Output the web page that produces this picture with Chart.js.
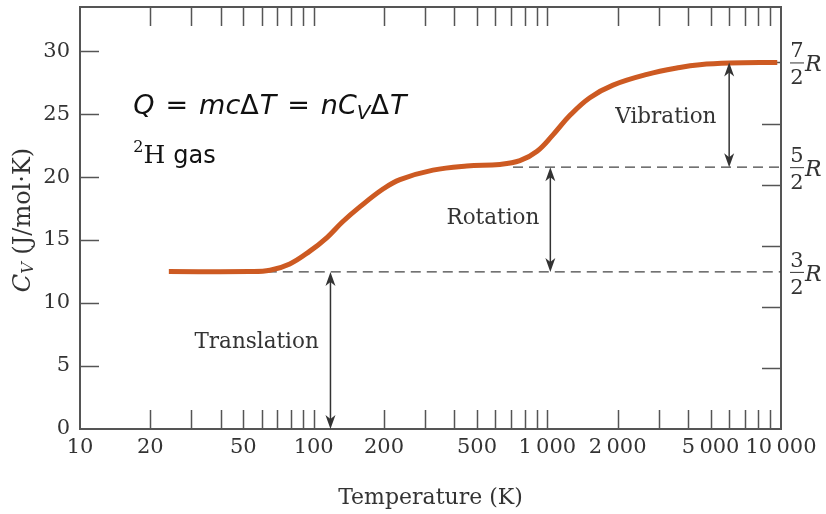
<!DOCTYPE html>
<html>
<head>
<meta charset="utf-8">
<script src="https://cdn.jsdelivr.net/npm/chart.js@4/dist/chart.umd.min.js"></script>
<style>
  html, body { margin: 0; padding: 0; background: #fff; }
  canvas { display: block; }
</style>
</head>
<body>
<canvas id="cv" width="826" height="514"></canvas>
<script>
// curve: temperature (K) and molar heat capacity (J/mol·K)
const temps = [24, 53, 65, 79, 96, 114, 133, 158, 198, 234, 324, 452, 627, 763, 904, 1057, 1250, 1520, 1910, 2670, 3690, 4490, 6030, 9640];
const cvValues = [12.5, 12.5, 12.6, 13.1, 14.1, 15.2, 16.45, 17.65, 19.05, 19.8, 20.55, 20.88, 21.0, 21.3, 22.05, 23.35, 24.9, 26.3, 27.3, 28.15, 28.7, 28.92, 29.05, 29.1];

// axis ticks
const xTickValues = [20, 30, 40, 50, 60, 70, 80, 90, 100, 200, 300, 400, 500, 600, 700, 800, 900, 1000, 2000, 3000, 4000, 5000, 6000, 7000, 8000, 9000];
const xLabelValues = [10, 20, 50, 100, 200, 500, 1000, 2000, 5000, 10000];
const yTickValues = [0, 5, 10, 15, 20, 25, 30];
const rightTickValues = [4.85, 9.7, 14.55, 19.4, 24.25, 29.1];

// R levels
const gasR = 8.314;
const levelNums = [3, 5, 7];
const levelValues = levelNums.map((n) => n / 2 * gasR);
const dashStartT = [63, 713];

// arrows and their labels
const arrowT = [118, 1030, 6000];
const arrowFrom = [0, levelValues[0], levelValues[1]];
const arrowTo = [levelValues[0], levelValues[1], levelValues[2]];
const modeLabels = ['Translation', 'Rotation', 'Vibration'];
const modeLabelT = [57, 585, 3215];
const modeLabelCv = [6.9, 16.75, 24.7];

const serif = '"DejaVu Serif", "Liberation Serif", serif';
const sans = '"DejaVu Sans", "Open Sans", sans-serif';
const inkColor = '#333';
const frameColor = '#555';

// Method: fmtTemp
// Purpose: tick label text for the temperature axis (thin space in thousands)
const fmtTemp = (v) => {
  if (v >= 1000) {
    const s = String(v);
    return s.slice(0, s.length - 3) + '\u2009' + s.slice(-3);
  }
  return String(v);
};

// Method: drawArrowHead
// Purpose: filled arrow head with tip at (x, y), dir = -1 up, +1 down
function drawArrowHead(ctx, x, y, dir) {
  const len = 14, half = 5, notch = 10;
  ctx.beginPath();
  ctx.moveTo(x, y);
  ctx.lineTo(x - half, y - dir * len);
  ctx.lineTo(x, y - dir * notch);
  ctx.lineTo(x + half, y - dir * len);
  ctx.closePath();
  ctx.fill();
}

const decorPlugin = {
  id: 'decor',
  beforeDatasetsDraw(chart) {
    const { ctx, chartArea: a } = chart;
    const xs = chart.scales.x, ys = chart.scales.y;
    ctx.save();
    ctx.strokeStyle = frameColor;
    ctx.lineWidth = 1.5;
    const tl = 19;
    // top and bottom ticks, pointing inward
    xTickValues.forEach((v) => {
      const px = Math.round(xs.getPixelForValue(v)) + 0.5;
      ctx.beginPath();
      ctx.moveTo(px, a.bottom); ctx.lineTo(px, a.bottom - tl);
      ctx.moveTo(px, a.top); ctx.lineTo(px, a.top + tl);
      ctx.stroke();
    });
    // left ticks
    yTickValues.forEach((v) => {
      if (v === 0) return;
      const py = Math.round(ys.getPixelForValue(v)) + 0.5;
      ctx.beginPath();
      ctx.moveTo(a.left, py); ctx.lineTo(a.left + tl, py);
      ctx.stroke();
    });
    // right ticks
    rightTickValues.forEach((v) => {
      const py = Math.round(ys.getPixelForValue(v)) + 0.5;
      ctx.beginPath();
      ctx.moveTo(a.right, py); ctx.lineTo(a.right - tl, py);
      ctx.stroke();
    });
    // frame
    ctx.lineWidth = 2;
    ctx.strokeRect(a.left, a.top, a.right - a.left, a.bottom - a.top);
    ctx.restore();
  },
  afterDatasetsDraw(chart) {
    const { ctx, chartArea: a } = chart;
    const xs = chart.scales.x, ys = chart.scales.y;
    ctx.save();

    // arrows
    ctx.strokeStyle = inkColor;
    ctx.fillStyle = inkColor;
    ctx.lineWidth = 1.5;
    arrowT.forEach((t, i) => {
      const px = xs.getPixelForValue(t);
      const yb = ys.getPixelForValue(arrowFrom[i]);
      const yt = ys.getPixelForValue(arrowTo[i]);
      ctx.beginPath();
      ctx.moveTo(px, yb - 8); ctx.lineTo(px, yt + 8);
      ctx.stroke();
      drawArrowHead(ctx, px, yt, -1);
      drawArrowHead(ctx, px, yb, 1);
    });

    // mode labels
    ctx.font = '21.5px ' + serif;
    ctx.textAlign = 'center';
    ctx.textBaseline = 'middle';
    modeLabels.forEach((s, i) => {
      ctx.fillText(s, xs.getPixelForValue(modeLabelT[i]), ys.getPixelForValue(modeLabelCv[i]));
    });

    // fractions on the right: n/2 R
    const fx = a.right + 16;
    levelValues.forEach((v, i) => {
      const py = ys.getPixelForValue(v);
      ctx.font = '21px ' + serif;
      ctx.textAlign = 'center';
      ctx.textBaseline = 'alphabetic';
      ctx.fillText(String(levelNums[i]), fx, py - 5);
      ctx.fillText('2', fx, py + 22);
      ctx.lineWidth = 1;
      ctx.beginPath();
      ctx.moveTo(fx - 7, py + 0.5); ctx.lineTo(fx + 7, py + 0.5);
      ctx.stroke();
      ctx.font = 'italic 22px ' + serif;
      ctx.textAlign = 'left';
      ctx.fillText('R', fx + 8, py + 9);
    });

    // formula
    ctx.fillStyle = '#111';
    ctx.textAlign = 'left';
    ctx.textBaseline = 'alphabetic';
    let fxPos = xs.getPixelForValue(16.9);
    const fy = ys.getPixelForValue(25.0);
    const parts = [
      ['i', 'Q'], ['u', '='], ['i', 'mc'], ['d', '\u0394'], ['i', 'T'], ['u', '='],
      ['i', 'nC'], ['s', 'V'], ['d', '\u0394'], ['i', 'T'],
    ];
    parts.forEach(([kind, s]) => {
      let dy = 0, gap = 0;
      if (kind === 'i') ctx.font = 'italic 27px ' + sans;
      else if (kind === 'u') { ctx.font = '27px ' + sans; gap = 11; }
      else if (kind === 'd') ctx.font = '27px ' + sans;
      else { ctx.font = 'italic 20px ' + sans; dy = 5; }
      fxPos += gap;
      ctx.fillText(s, fxPos, fy + dy);
      fxPos += ctx.measureText(s).width + gap + (kind === 'd' ? 1 : 0);
    });

    // 2H gas
    let gx = xs.getPixelForValue(16.9);
    const gy = ys.getPixelForValue(21.1);
    ctx.font = '16px ' + serif;
    ctx.fillText('2', gx, gy - 11);
    gx += ctx.measureText('2').width;
    ctx.font = '25px ' + serif;
    ctx.fillText('H', gx, gy);
    gx += ctx.measureText('H').width + 8;
    ctx.font = '24px ' + sans;
    ctx.fillText('gas', gx, gy);

    // y axis title, rotated
    ctx.fillStyle = inkColor;
    ctx.translate(24, 220);
    ctx.rotate(-Math.PI / 2);
    const tParts = [['italic 24px ', 'C', 0], ['italic 16px ', 'V', 5], ['24px ', ' (J/mol\u00b7K)', 0]];
    let total = 0;
    tParts.forEach(([f, s]) => { ctx.font = f + serif; total += ctx.measureText(s).width; });
    let tx = -total / 2;
    ctx.textBaseline = 'middle';
    tParts.forEach(([f, s, dy]) => {
      ctx.font = f + serif;
      ctx.fillText(s, tx, dy);
      tx += ctx.measureText(s).width;
    });
    ctx.restore();
  },
};

new Chart(document.getElementById('cv'), {
  type: 'line',
  data: {
    datasets: [
      {
        data: temps.map((t, i) => ({ x: t, y: cvValues[i] })),
        borderColor: '#cd5a22',
        borderWidth: 5,
        pointRadius: 0,
        tension: 0.4,
        borderCapStyle: 'butt',
        order: 0,
      },
      ...dashStartT.map((t, i) => ({
        data: [{ x: t, y: levelValues[i] }, { x: 10000, y: levelValues[i] }],
        borderColor: '#444',
        borderWidth: 1.4,
        borderDash: [10, 6],
        pointRadius: 0,
        order: 1,
      })),
    ],
  },
  options: {
    responsive: false,
    devicePixelRatio: 1,
    animation: false,
    layout: { padding: { top: 7, right: 45, left: 0, bottom: 0 } },
    plugins: { legend: { display: false }, tooltip: { enabled: false } },
    scales: {
      x: {
        type: 'logarithmic',
        min: 10,
        max: 10000,
        grid: { display: false, drawTicks: false },
        border: { display: false },
        afterBuildTicks: (s) => { s.ticks = xLabelValues.map((v) => ({ value: v })); },
        afterFit: (s) => { s.height = 85; s.paddingLeft = 0; s.paddingRight = 0; },
        ticks: {
          autoSkip: false,
          maxRotation: 0,
          padding: 6,
          color: inkColor,
          font: { family: serif, size: 21 },
          callback: (v) => fmtTemp(v),
        },
        title: {
          display: true,
          text: 'Temperature (K)',
          color: inkColor,
          font: { family: serif, size: 22 },
          padding: { top: 0, bottom: 3 },
        },
      },
      y: {
        min: 0,
        max: 33.5,
        grid: { display: false, drawTicks: false },
        border: { display: false },
        afterBuildTicks: (s) => { s.ticks = yTickValues.map((v) => ({ value: v })); },
        afterFit: (s) => { s.width = 80; s.paddingTop = 0; s.paddingBottom = 0; },
        ticks: {
          padding: 10,
          color: inkColor,
          font: { family: serif, size: 21 },
        },
      },
    },
  },
  plugins: [decorPlugin],
});
</script>
</body>
</html>
